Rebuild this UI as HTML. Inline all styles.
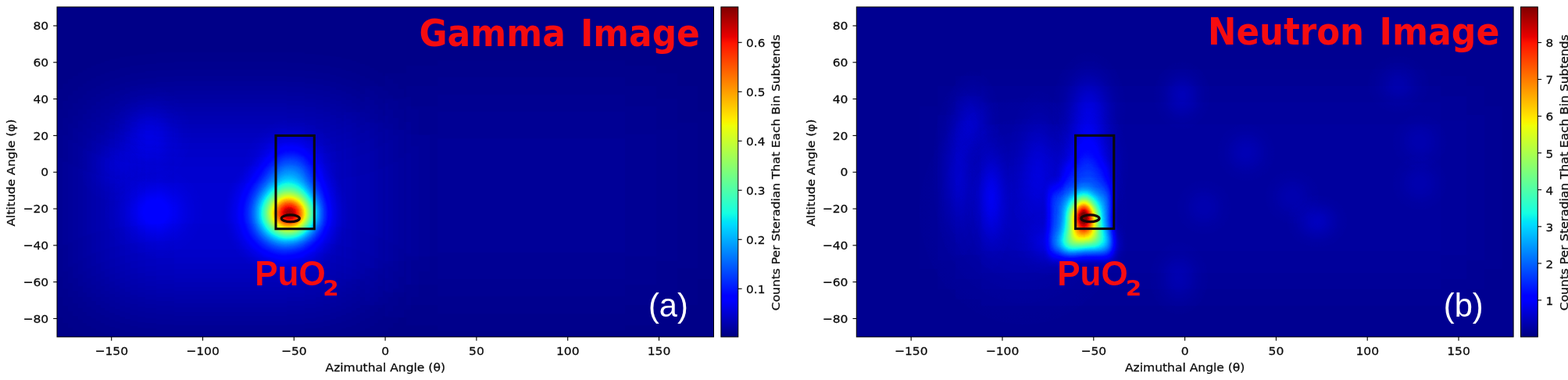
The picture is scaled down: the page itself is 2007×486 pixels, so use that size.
<!DOCTYPE html>
<html lang="en"><head><meta charset="utf-8"><title>Gamma and Neutron Images</title>
<style>
html,body{margin:0;padding:0;background:#fff}
body{width:2007px;height:486px;overflow:hidden}
svg{display:block}
text{font-family:"DejaVu Sans","Liberation Sans",sans-serif;fill:#0a0a0a}
.tk,.ctk,.lab,.clab{stroke:#0a0a0a;stroke-width:0.25px}
.tk{font-size:14.8px}
.ctk{font-size:14.8px}
.lab{font-size:14.8px}
.clab{font-size:14.8px}
.ttl{font-family:"DejaVu Sans","Liberation Sans",sans-serif;font-weight:bold;fill:#f60c10}
.pu{font-family:"Liberation Sans","DejaVu Sans",sans-serif;font-weight:bold;fill:#f60c10}
.sub{font-family:"DejaVu Sans","Liberation Sans",sans-serif}
.tag{font-family:"Liberation Sans",sans-serif;fill:#fff}
</style></head><body>
<svg width="2007" height="486" viewBox="0 0 2007 486">
<defs>
<filter id="jet" color-interpolation-filters="sRGB" filterUnits="userSpaceOnUse" x="0" y="0" width="2007" height="486"><feComponentTransfer><feFuncR type="table" tableValues="0.000 0.000 0.000 0.000 0.000 0.000 0.000 0.000 0.000 0.000 0.000 0.000 0.000 0.000 0.000 0.000 0.000 0.000 0.000 0.000 0.000 0.000 0.000 0.000 0.000 0.000 0.000 0.000 0.000 0.000 0.000 0.000 0.000 0.000 0.000 0.000 0.000 0.000 0.000 0.000 0.000 0.000 0.000 0.000 0.000 0.000 0.000 0.000 0.000 0.000 0.000 0.000 0.000 0.000 0.000 0.000 0.000 0.000 0.000 0.000 0.000 0.000 0.000 0.000 0.000 0.000 0.000 0.000 0.000 0.000 0.000 0.000 0.000 0.000 0.000 0.000 0.000 0.000 0.000 0.000 0.000 0.000 0.000 0.000 0.000 0.000 0.000 0.000 0.000 0.000 0.000 0.000 0.000 0.000 0.000 0.000 0.000 0.000 0.000 0.000 0.000 0.000 0.000 0.000 0.000 0.012 0.026 0.041 0.056 0.070 0.085 0.100 0.115 0.130 0.145 0.160 0.176 0.191 0.207 0.223 0.239 0.255 0.271 0.287 0.303 0.320 0.336 0.353 0.370 0.387 0.404 0.421 0.439 0.456 0.474 0.492 0.510 0.528 0.546 0.565 0.584 0.602 0.621 0.640 0.660 0.679 0.699 0.719 0.739 0.759 0.779 0.800 0.821 0.841 0.863 0.884 0.906 0.928 0.950 0.972 0.994 1.000 1.000 1.000 1.000 1.000 1.000 1.000 1.000 1.000 1.000 1.000 1.000 1.000 1.000 1.000 1.000 1.000 1.000 1.000 1.000 1.000 1.000 1.000 1.000 1.000 1.000 1.000 0.995 0.950 0.903 0.856 0.809 0.760 0.711 0.661 0.610 0.558 0.505 0.500 0.500 0.500 0.500 0.500 0.500 0.500 0.500 0.500 0.500 0.500 0.500 0.500 0.500 0.500 0.500 0.500 0.500 0.500 0.500 0.500 0.500 0.500 0.500 0.500 0.500 0.500 0.500 0.500 0.500 0.500 0.500 0.500 0.500 0.500 0.500 0.500 0.500 0.500 0.500 0.500 0.500 0.500 0.500 0.500 0.500 0.500 0.500 0.500 0.500 0.500 0.500 0.500 0.500 0.500 0.500 0.500"/><feFuncG type="table" tableValues="0.000 0.000 0.000 0.000 0.000 0.000 0.000 0.000 0.000 0.000 0.000 0.000 0.000 0.000 0.000 0.000 0.000 0.000 0.000 0.000 0.000 0.000 0.000 0.000 0.000 0.000 0.000 0.000 0.000 0.000 0.000 0.000 0.000 0.000 0.000 0.000 0.000 0.000 0.000 0.000 0.000 0.000 0.000 0.000 0.005 0.018 0.030 0.043 0.056 0.069 0.082 0.095 0.108 0.121 0.135 0.148 0.161 0.175 0.188 0.202 0.215 0.229 0.243 0.257 0.271 0.285 0.299 0.313 0.327 0.341 0.356 0.370 0.385 0.399 0.414 0.429 0.444 0.459 0.474 0.489 0.504 0.519 0.535 0.550 0.566 0.581 0.597 0.613 0.629 0.645 0.661 0.677 0.693 0.710 0.726 0.743 0.760 0.776 0.793 0.810 0.828 0.845 0.862 0.880 0.897 0.915 0.933 0.951 0.969 0.987 1.000 1.000 1.000 1.000 1.000 1.000 1.000 1.000 1.000 1.000 1.000 1.000 1.000 1.000 1.000 1.000 1.000 1.000 1.000 1.000 1.000 1.000 1.000 1.000 1.000 1.000 1.000 1.000 1.000 1.000 1.000 1.000 1.000 1.000 1.000 1.000 1.000 1.000 1.000 1.000 1.000 1.000 1.000 1.000 1.000 1.000 1.000 1.000 0.984 0.958 0.932 0.906 0.880 0.853 0.826 0.799 0.771 0.743 0.715 0.687 0.658 0.629 0.599 0.569 0.539 0.508 0.477 0.446 0.414 0.381 0.349 0.316 0.282 0.248 0.213 0.178 0.143 0.107 0.070 0.033 0.000 0.000 0.000 0.000 0.000 0.000 0.000 0.000 0.000 0.000 0.000 0.000 0.000 0.000 0.000 0.000 0.000 0.000 0.000 0.000 0.000 0.000 0.000 0.000 0.000 0.000 0.000 0.000 0.000 0.000 0.000 0.000 0.000 0.000 0.000 0.000 0.000 0.000 0.000 0.000 0.000 0.000 0.000 0.000 0.000 0.000 0.000 0.000 0.000 0.000 0.000 0.000 0.000 0.000 0.000 0.000 0.000 0.000 0.000 0.000 0.000 0.000 0.000 0.000 0.000 0.000"/><feFuncB type="table" tableValues="0.500 0.512 0.524 0.536 0.548 0.560 0.572 0.584 0.597 0.609 0.621 0.634 0.646 0.659 0.671 0.684 0.696 0.709 0.722 0.735 0.748 0.760 0.773 0.786 0.800 0.813 0.826 0.839 0.852 0.866 0.879 0.893 0.906 0.920 0.934 0.947 0.961 0.975 0.989 1.000 1.000 1.000 1.000 1.000 1.000 1.000 1.000 1.000 1.000 1.000 1.000 1.000 1.000 1.000 1.000 1.000 1.000 1.000 1.000 1.000 1.000 1.000 1.000 1.000 1.000 1.000 1.000 1.000 1.000 1.000 1.000 1.000 1.000 1.000 1.000 1.000 1.000 1.000 1.000 1.000 1.000 1.000 1.000 1.000 1.000 1.000 1.000 1.000 1.000 1.000 1.000 1.000 1.000 1.000 1.000 1.000 1.000 1.000 1.000 1.000 1.000 1.000 0.998 0.984 0.970 0.956 0.941 0.927 0.912 0.898 0.883 0.868 0.853 0.838 0.823 0.807 0.792 0.776 0.761 0.745 0.729 0.713 0.697 0.681 0.664 0.648 0.631 0.615 0.598 0.581 0.564 0.546 0.529 0.511 0.494 0.476 0.458 0.440 0.421 0.403 0.384 0.365 0.347 0.327 0.308 0.289 0.269 0.249 0.229 0.209 0.189 0.168 0.147 0.126 0.105 0.084 0.062 0.040 0.018 0.000 0.000 0.000 0.000 0.000 0.000 0.000 0.000 0.000 0.000 0.000 0.000 0.000 0.000 0.000 0.000 0.000 0.000 0.000 0.000 0.000 0.000 0.000 0.000 0.000 0.000 0.000 0.000 0.000 0.000 0.000 0.000 0.000 0.000 0.000 0.000 0.000 0.000 0.000 0.000 0.000 0.000 0.000 0.000 0.000 0.000 0.000 0.000 0.000 0.000 0.000 0.000 0.000 0.000 0.000 0.000 0.000 0.000 0.000 0.000 0.000 0.000 0.000 0.000 0.000 0.000 0.000 0.000 0.000 0.000 0.000 0.000 0.000 0.000 0.000 0.000 0.000 0.000 0.000 0.000 0.000 0.000 0.000 0.000 0.000 0.000 0.000 0.000 0.000 0.000 0.000 0.000 0.000 0.000 0.000 0.000 0.000"/><feFuncA type="linear" slope="0" intercept="1"/></feComponentTransfer></filter>
<linearGradient id="cb" x1="0" y1="1" x2="0" y2="0"><stop offset="0.000" stop-color="#000080"/><stop offset="0.110" stop-color="#0000ff"/><stop offset="0.125" stop-color="#0000ff"/><stop offset="0.340" stop-color="#00dbff"/><stop offset="0.350" stop-color="#00e5f7"/><stop offset="0.375" stop-color="#15ffe2"/><stop offset="0.640" stop-color="#efff08"/><stop offset="0.650" stop-color="#f7f600"/><stop offset="0.660" stop-color="#ffec00"/><stop offset="0.890" stop-color="#ff1300"/><stop offset="0.910" stop-color="#e80000"/><stop offset="1.000" stop-color="#800000"/></linearGradient>
<radialGradient id="g1"><stop offset="0.0000" stop-color="#fff" stop-opacity="0.4594"/><stop offset="0.0556" stop-color="#fff" stop-opacity="0.4547"/><stop offset="0.1111" stop-color="#fff" stop-opacity="0.4409"/><stop offset="0.1667" stop-color="#fff" stop-opacity="0.4184"/><stop offset="0.2222" stop-color="#fff" stop-opacity="0.3880"/><stop offset="0.2778" stop-color="#fff" stop-opacity="0.3512"/><stop offset="0.3333" stop-color="#fff" stop-opacity="0.3095"/><stop offset="0.3889" stop-color="#fff" stop-opacity="0.2651"/><stop offset="0.4444" stop-color="#fff" stop-opacity="0.2202"/><stop offset="0.5000" stop-color="#fff" stop-opacity="0.1772"/><stop offset="0.5556" stop-color="#fff" stop-opacity="0.1377"/><stop offset="0.6111" stop-color="#fff" stop-opacity="0.1032"/><stop offset="0.6667" stop-color="#fff" stop-opacity="0.0743"/><stop offset="0.7222" stop-color="#fff" stop-opacity="0.0512"/><stop offset="0.7778" stop-color="#fff" stop-opacity="0.0334"/><stop offset="0.8333" stop-color="#fff" stop-opacity="0.0202"/><stop offset="0.8889" stop-color="#fff" stop-opacity="0.0108"/><stop offset="0.9444" stop-color="#fff" stop-opacity="0.0043"/><stop offset="1.0000" stop-color="#fff" stop-opacity="0.0000"/></radialGradient>
<radialGradient id="g2"><stop offset="0.0000" stop-color="#fff" stop-opacity="0.5276"/><stop offset="0.0556" stop-color="#fff" stop-opacity="0.5227"/><stop offset="0.1111" stop-color="#fff" stop-opacity="0.5079"/><stop offset="0.1667" stop-color="#fff" stop-opacity="0.4836"/><stop offset="0.2222" stop-color="#fff" stop-opacity="0.4506"/><stop offset="0.2778" stop-color="#fff" stop-opacity="0.4099"/><stop offset="0.3333" stop-color="#fff" stop-opacity="0.3634"/><stop offset="0.3889" stop-color="#fff" stop-opacity="0.3131"/><stop offset="0.4444" stop-color="#fff" stop-opacity="0.2617"/><stop offset="0.5000" stop-color="#fff" stop-opacity="0.2116"/><stop offset="0.5556" stop-color="#fff" stop-opacity="0.1653"/><stop offset="0.6111" stop-color="#fff" stop-opacity="0.1244"/><stop offset="0.6667" stop-color="#fff" stop-opacity="0.0899"/><stop offset="0.7222" stop-color="#fff" stop-opacity="0.0621"/><stop offset="0.7778" stop-color="#fff" stop-opacity="0.0406"/><stop offset="0.8333" stop-color="#fff" stop-opacity="0.0246"/><stop offset="0.8889" stop-color="#fff" stop-opacity="0.0132"/><stop offset="0.9444" stop-color="#fff" stop-opacity="0.0053"/><stop offset="1.0000" stop-color="#fff" stop-opacity="0.0000"/></radialGradient>
<radialGradient id="g3"><stop offset="0.0000" stop-color="#fff" stop-opacity="0.1772"/><stop offset="0.0556" stop-color="#fff" stop-opacity="0.1749"/><stop offset="0.1111" stop-color="#fff" stop-opacity="0.1684"/><stop offset="0.1667" stop-color="#fff" stop-opacity="0.1579"/><stop offset="0.2222" stop-color="#fff" stop-opacity="0.1442"/><stop offset="0.2778" stop-color="#fff" stop-opacity="0.1282"/><stop offset="0.3333" stop-color="#fff" stop-opacity="0.1108"/><stop offset="0.3889" stop-color="#fff" stop-opacity="0.0930"/><stop offset="0.4444" stop-color="#fff" stop-opacity="0.0758"/><stop offset="0.5000" stop-color="#fff" stop-opacity="0.0600"/><stop offset="0.5556" stop-color="#fff" stop-opacity="0.0459"/><stop offset="0.6111" stop-color="#fff" stop-opacity="0.0340"/><stop offset="0.6667" stop-color="#fff" stop-opacity="0.0242"/><stop offset="0.7222" stop-color="#fff" stop-opacity="0.0165"/><stop offset="0.7778" stop-color="#fff" stop-opacity="0.0107"/><stop offset="0.8333" stop-color="#fff" stop-opacity="0.0065"/><stop offset="0.8889" stop-color="#fff" stop-opacity="0.0034"/><stop offset="0.9444" stop-color="#fff" stop-opacity="0.0014"/><stop offset="1.0000" stop-color="#fff" stop-opacity="0.0000"/></radialGradient>
<filter id="g4" filterUnits="userSpaceOnUse" x="-100" y="-60" width="790" height="640" color-interpolation-filters="sRGB"><feGaussianBlur stdDeviation="55 50"/></filter>
<filter id="g5" filterUnits="userSpaceOnUse" x="240" y="-90" width="880" height="680" color-interpolation-filters="sRGB"><feGaussianBlur stdDeviation="60 50"/></filter>
<radialGradient id="g6"><stop offset="0.0000" stop-color="#fff" stop-opacity="0.0792"/><stop offset="0.0556" stop-color="#fff" stop-opacity="0.0781"/><stop offset="0.1111" stop-color="#fff" stop-opacity="0.0750"/><stop offset="0.1667" stop-color="#fff" stop-opacity="0.0701"/><stop offset="0.2222" stop-color="#fff" stop-opacity="0.0638"/><stop offset="0.2778" stop-color="#fff" stop-opacity="0.0564"/><stop offset="0.3333" stop-color="#fff" stop-opacity="0.0485"/><stop offset="0.3889" stop-color="#fff" stop-opacity="0.0405"/><stop offset="0.4444" stop-color="#fff" stop-opacity="0.0328"/><stop offset="0.5000" stop-color="#fff" stop-opacity="0.0258"/><stop offset="0.5556" stop-color="#fff" stop-opacity="0.0197"/><stop offset="0.6111" stop-color="#fff" stop-opacity="0.0145"/><stop offset="0.6667" stop-color="#fff" stop-opacity="0.0103"/><stop offset="0.7222" stop-color="#fff" stop-opacity="0.0070"/><stop offset="0.7778" stop-color="#fff" stop-opacity="0.0045"/><stop offset="0.8333" stop-color="#fff" stop-opacity="0.0027"/><stop offset="0.8889" stop-color="#fff" stop-opacity="0.0015"/><stop offset="0.9444" stop-color="#fff" stop-opacity="0.0006"/><stop offset="1.0000" stop-color="#fff" stop-opacity="0.0000"/></radialGradient>
<radialGradient id="g7"><stop offset="0.0000" stop-color="#fff" stop-opacity="0.0511"/><stop offset="0.0556" stop-color="#fff" stop-opacity="0.0505"/><stop offset="0.1111" stop-color="#fff" stop-opacity="0.0484"/><stop offset="0.1667" stop-color="#fff" stop-opacity="0.0452"/><stop offset="0.2222" stop-color="#fff" stop-opacity="0.0411"/><stop offset="0.2778" stop-color="#fff" stop-opacity="0.0363"/><stop offset="0.3333" stop-color="#fff" stop-opacity="0.0311"/><stop offset="0.3889" stop-color="#fff" stop-opacity="0.0259"/><stop offset="0.4444" stop-color="#fff" stop-opacity="0.0210"/><stop offset="0.5000" stop-color="#fff" stop-opacity="0.0165"/><stop offset="0.5556" stop-color="#fff" stop-opacity="0.0126"/><stop offset="0.6111" stop-color="#fff" stop-opacity="0.0093"/><stop offset="0.6667" stop-color="#fff" stop-opacity="0.0066"/><stop offset="0.7222" stop-color="#fff" stop-opacity="0.0045"/><stop offset="0.7778" stop-color="#fff" stop-opacity="0.0029"/><stop offset="0.8333" stop-color="#fff" stop-opacity="0.0017"/><stop offset="0.8889" stop-color="#fff" stop-opacity="0.0009"/><stop offset="0.9444" stop-color="#fff" stop-opacity="0.0004"/><stop offset="1.0000" stop-color="#fff" stop-opacity="0.0000"/></radialGradient>
<radialGradient id="g8"><stop offset="0.0000" stop-color="#fff" stop-opacity="0.0296"/><stop offset="0.0556" stop-color="#fff" stop-opacity="0.0291"/><stop offset="0.1111" stop-color="#fff" stop-opacity="0.0280"/><stop offset="0.1667" stop-color="#fff" stop-opacity="0.0261"/><stop offset="0.2222" stop-color="#fff" stop-opacity="0.0237"/><stop offset="0.2778" stop-color="#fff" stop-opacity="0.0209"/><stop offset="0.3333" stop-color="#fff" stop-opacity="0.0179"/><stop offset="0.3889" stop-color="#fff" stop-opacity="0.0149"/><stop offset="0.4444" stop-color="#fff" stop-opacity="0.0121"/><stop offset="0.5000" stop-color="#fff" stop-opacity="0.0095"/><stop offset="0.5556" stop-color="#fff" stop-opacity="0.0072"/><stop offset="0.6111" stop-color="#fff" stop-opacity="0.0053"/><stop offset="0.6667" stop-color="#fff" stop-opacity="0.0038"/><stop offset="0.7222" stop-color="#fff" stop-opacity="0.0026"/><stop offset="0.7778" stop-color="#fff" stop-opacity="0.0017"/><stop offset="0.8333" stop-color="#fff" stop-opacity="0.0010"/><stop offset="0.8889" stop-color="#fff" stop-opacity="0.0005"/><stop offset="0.9444" stop-color="#fff" stop-opacity="0.0002"/><stop offset="1.0000" stop-color="#fff" stop-opacity="0.0000"/></radialGradient>
<clipPath id="clip0"><rect x="73" y="8.9" width="840.5" height="422"/></clipPath>
<filter id="g9" filterUnits="userSpaceOnUse" x="1329" y="218" width="117" height="144" color-interpolation-filters="sRGB"><feGaussianBlur stdDeviation="9 11"/></filter>
<radialGradient id="g10"><stop offset="0.0000" stop-color="#fff" stop-opacity="0.4674"/><stop offset="0.0556" stop-color="#fff" stop-opacity="0.4627"/><stop offset="0.1111" stop-color="#fff" stop-opacity="0.4488"/><stop offset="0.1667" stop-color="#fff" stop-opacity="0.4260"/><stop offset="0.2222" stop-color="#fff" stop-opacity="0.3953"/><stop offset="0.2778" stop-color="#fff" stop-opacity="0.3580"/><stop offset="0.3333" stop-color="#fff" stop-opacity="0.3157"/><stop offset="0.3889" stop-color="#fff" stop-opacity="0.2706"/><stop offset="0.4444" stop-color="#fff" stop-opacity="0.2250"/><stop offset="0.5000" stop-color="#fff" stop-opacity="0.1811"/><stop offset="0.5556" stop-color="#fff" stop-opacity="0.1408"/><stop offset="0.6111" stop-color="#fff" stop-opacity="0.1056"/><stop offset="0.6667" stop-color="#fff" stop-opacity="0.0761"/><stop offset="0.7222" stop-color="#fff" stop-opacity="0.0524"/><stop offset="0.7778" stop-color="#fff" stop-opacity="0.0342"/><stop offset="0.8333" stop-color="#fff" stop-opacity="0.0207"/><stop offset="0.8889" stop-color="#fff" stop-opacity="0.0111"/><stop offset="0.9444" stop-color="#fff" stop-opacity="0.0044"/><stop offset="1.0000" stop-color="#fff" stop-opacity="0.0000"/></radialGradient>
<radialGradient id="g11"><stop offset="0.0000" stop-color="#fff" stop-opacity="0.1263"/><stop offset="0.0556" stop-color="#fff" stop-opacity="0.1246"/><stop offset="0.1111" stop-color="#fff" stop-opacity="0.1198"/><stop offset="0.1667" stop-color="#fff" stop-opacity="0.1122"/><stop offset="0.2222" stop-color="#fff" stop-opacity="0.1022"/><stop offset="0.2778" stop-color="#fff" stop-opacity="0.0906"/><stop offset="0.3333" stop-color="#fff" stop-opacity="0.0781"/><stop offset="0.3889" stop-color="#fff" stop-opacity="0.0654"/><stop offset="0.4444" stop-color="#fff" stop-opacity="0.0531"/><stop offset="0.5000" stop-color="#fff" stop-opacity="0.0419"/><stop offset="0.5556" stop-color="#fff" stop-opacity="0.0320"/><stop offset="0.6111" stop-color="#fff" stop-opacity="0.0236"/><stop offset="0.6667" stop-color="#fff" stop-opacity="0.0168"/><stop offset="0.7222" stop-color="#fff" stop-opacity="0.0115"/><stop offset="0.7778" stop-color="#fff" stop-opacity="0.0074"/><stop offset="0.8333" stop-color="#fff" stop-opacity="0.0045"/><stop offset="0.8889" stop-color="#fff" stop-opacity="0.0024"/><stop offset="0.9444" stop-color="#fff" stop-opacity="0.0009"/><stop offset="1.0000" stop-color="#fff" stop-opacity="0.0000"/></radialGradient>
<radialGradient id="g12"><stop offset="0.0000" stop-color="#fff" stop-opacity="0.1263"/><stop offset="0.0556" stop-color="#fff" stop-opacity="0.1246"/><stop offset="0.1111" stop-color="#fff" stop-opacity="0.1198"/><stop offset="0.1667" stop-color="#fff" stop-opacity="0.1122"/><stop offset="0.2222" stop-color="#fff" stop-opacity="0.1022"/><stop offset="0.2778" stop-color="#fff" stop-opacity="0.0906"/><stop offset="0.3333" stop-color="#fff" stop-opacity="0.0781"/><stop offset="0.3889" stop-color="#fff" stop-opacity="0.0654"/><stop offset="0.4444" stop-color="#fff" stop-opacity="0.0531"/><stop offset="0.5000" stop-color="#fff" stop-opacity="0.0419"/><stop offset="0.5556" stop-color="#fff" stop-opacity="0.0320"/><stop offset="0.6111" stop-color="#fff" stop-opacity="0.0236"/><stop offset="0.6667" stop-color="#fff" stop-opacity="0.0168"/><stop offset="0.7222" stop-color="#fff" stop-opacity="0.0115"/><stop offset="0.7778" stop-color="#fff" stop-opacity="0.0074"/><stop offset="0.8333" stop-color="#fff" stop-opacity="0.0045"/><stop offset="0.8889" stop-color="#fff" stop-opacity="0.0024"/><stop offset="0.9444" stop-color="#fff" stop-opacity="0.0009"/><stop offset="1.0000" stop-color="#fff" stop-opacity="0.0000"/></radialGradient>
<filter id="g13" filterUnits="userSpaceOnUse" x="1323" y="202" width="121" height="163" color-interpolation-filters="sRGB"><feGaussianBlur stdDeviation="5 10"/></filter>
<radialGradient id="g14"><stop offset="0.0000" stop-color="#fff" stop-opacity="0.1521"/><stop offset="0.0556" stop-color="#fff" stop-opacity="0.1502"/><stop offset="0.1111" stop-color="#fff" stop-opacity="0.1444"/><stop offset="0.1667" stop-color="#fff" stop-opacity="0.1353"/><stop offset="0.2222" stop-color="#fff" stop-opacity="0.1234"/><stop offset="0.2778" stop-color="#fff" stop-opacity="0.1096"/><stop offset="0.3333" stop-color="#fff" stop-opacity="0.0946"/><stop offset="0.3889" stop-color="#fff" stop-opacity="0.0793"/><stop offset="0.4444" stop-color="#fff" stop-opacity="0.0646"/><stop offset="0.5000" stop-color="#fff" stop-opacity="0.0510"/><stop offset="0.5556" stop-color="#fff" stop-opacity="0.0390"/><stop offset="0.6111" stop-color="#fff" stop-opacity="0.0288"/><stop offset="0.6667" stop-color="#fff" stop-opacity="0.0205"/><stop offset="0.7222" stop-color="#fff" stop-opacity="0.0140"/><stop offset="0.7778" stop-color="#fff" stop-opacity="0.0091"/><stop offset="0.8333" stop-color="#fff" stop-opacity="0.0055"/><stop offset="0.8889" stop-color="#fff" stop-opacity="0.0029"/><stop offset="0.9444" stop-color="#fff" stop-opacity="0.0012"/><stop offset="1.0000" stop-color="#fff" stop-opacity="0.0000"/></radialGradient>
<filter id="g15" filterUnits="userSpaceOnUse" x="1332" y="170" width="117" height="140" color-interpolation-filters="sRGB"><feGaussianBlur stdDeviation="7 12"/></filter>
<filter id="g16" filterUnits="userSpaceOnUse" x="1020" y="-50" width="1060" height="580" color-interpolation-filters="sRGB"><feGaussianBlur stdDeviation="45 40"/></filter>
<radialGradient id="g17"><stop offset="0.0000" stop-color="#fff" stop-opacity="0.0440"/><stop offset="0.0556" stop-color="#fff" stop-opacity="0.0434"/><stop offset="0.1111" stop-color="#fff" stop-opacity="0.0416"/><stop offset="0.1667" stop-color="#fff" stop-opacity="0.0389"/><stop offset="0.2222" stop-color="#fff" stop-opacity="0.0353"/><stop offset="0.2778" stop-color="#fff" stop-opacity="0.0312"/><stop offset="0.3333" stop-color="#fff" stop-opacity="0.0267"/><stop offset="0.3889" stop-color="#fff" stop-opacity="0.0223"/><stop offset="0.4444" stop-color="#fff" stop-opacity="0.0180"/><stop offset="0.5000" stop-color="#fff" stop-opacity="0.0142"/><stop offset="0.5556" stop-color="#fff" stop-opacity="0.0108"/><stop offset="0.6111" stop-color="#fff" stop-opacity="0.0079"/><stop offset="0.6667" stop-color="#fff" stop-opacity="0.0056"/><stop offset="0.7222" stop-color="#fff" stop-opacity="0.0038"/><stop offset="0.7778" stop-color="#fff" stop-opacity="0.0025"/><stop offset="0.8333" stop-color="#fff" stop-opacity="0.0015"/><stop offset="0.8889" stop-color="#fff" stop-opacity="0.0008"/><stop offset="0.9444" stop-color="#fff" stop-opacity="0.0003"/><stop offset="1.0000" stop-color="#fff" stop-opacity="0.0000"/></radialGradient>
<radialGradient id="g18"><stop offset="0.0000" stop-color="#fff" stop-opacity="0.0792"/><stop offset="0.0556" stop-color="#fff" stop-opacity="0.0781"/><stop offset="0.1111" stop-color="#fff" stop-opacity="0.0750"/><stop offset="0.1667" stop-color="#fff" stop-opacity="0.0701"/><stop offset="0.2222" stop-color="#fff" stop-opacity="0.0638"/><stop offset="0.2778" stop-color="#fff" stop-opacity="0.0564"/><stop offset="0.3333" stop-color="#fff" stop-opacity="0.0485"/><stop offset="0.3889" stop-color="#fff" stop-opacity="0.0405"/><stop offset="0.4444" stop-color="#fff" stop-opacity="0.0328"/><stop offset="0.5000" stop-color="#fff" stop-opacity="0.0258"/><stop offset="0.5556" stop-color="#fff" stop-opacity="0.0197"/><stop offset="0.6111" stop-color="#fff" stop-opacity="0.0145"/><stop offset="0.6667" stop-color="#fff" stop-opacity="0.0103"/><stop offset="0.7222" stop-color="#fff" stop-opacity="0.0070"/><stop offset="0.7778" stop-color="#fff" stop-opacity="0.0045"/><stop offset="0.8333" stop-color="#fff" stop-opacity="0.0027"/><stop offset="0.8889" stop-color="#fff" stop-opacity="0.0015"/><stop offset="0.9444" stop-color="#fff" stop-opacity="0.0006"/><stop offset="1.0000" stop-color="#fff" stop-opacity="0.0000"/></radialGradient>
<radialGradient id="g19"><stop offset="0.0000" stop-color="#fff" stop-opacity="0.0511"/><stop offset="0.0556" stop-color="#fff" stop-opacity="0.0505"/><stop offset="0.1111" stop-color="#fff" stop-opacity="0.0484"/><stop offset="0.1667" stop-color="#fff" stop-opacity="0.0452"/><stop offset="0.2222" stop-color="#fff" stop-opacity="0.0411"/><stop offset="0.2778" stop-color="#fff" stop-opacity="0.0363"/><stop offset="0.3333" stop-color="#fff" stop-opacity="0.0311"/><stop offset="0.3889" stop-color="#fff" stop-opacity="0.0259"/><stop offset="0.4444" stop-color="#fff" stop-opacity="0.0210"/><stop offset="0.5000" stop-color="#fff" stop-opacity="0.0165"/><stop offset="0.5556" stop-color="#fff" stop-opacity="0.0126"/><stop offset="0.6111" stop-color="#fff" stop-opacity="0.0093"/><stop offset="0.6667" stop-color="#fff" stop-opacity="0.0066"/><stop offset="0.7222" stop-color="#fff" stop-opacity="0.0045"/><stop offset="0.7778" stop-color="#fff" stop-opacity="0.0029"/><stop offset="0.8333" stop-color="#fff" stop-opacity="0.0017"/><stop offset="0.8889" stop-color="#fff" stop-opacity="0.0009"/><stop offset="0.9444" stop-color="#fff" stop-opacity="0.0004"/><stop offset="1.0000" stop-color="#fff" stop-opacity="0.0000"/></radialGradient>
<radialGradient id="g20"><stop offset="0.0000" stop-color="#fff" stop-opacity="0.0511"/><stop offset="0.0556" stop-color="#fff" stop-opacity="0.0505"/><stop offset="0.1111" stop-color="#fff" stop-opacity="0.0484"/><stop offset="0.1667" stop-color="#fff" stop-opacity="0.0452"/><stop offset="0.2222" stop-color="#fff" stop-opacity="0.0411"/><stop offset="0.2778" stop-color="#fff" stop-opacity="0.0363"/><stop offset="0.3333" stop-color="#fff" stop-opacity="0.0311"/><stop offset="0.3889" stop-color="#fff" stop-opacity="0.0259"/><stop offset="0.4444" stop-color="#fff" stop-opacity="0.0210"/><stop offset="0.5000" stop-color="#fff" stop-opacity="0.0165"/><stop offset="0.5556" stop-color="#fff" stop-opacity="0.0126"/><stop offset="0.6111" stop-color="#fff" stop-opacity="0.0093"/><stop offset="0.6667" stop-color="#fff" stop-opacity="0.0066"/><stop offset="0.7222" stop-color="#fff" stop-opacity="0.0045"/><stop offset="0.7778" stop-color="#fff" stop-opacity="0.0029"/><stop offset="0.8333" stop-color="#fff" stop-opacity="0.0017"/><stop offset="0.8889" stop-color="#fff" stop-opacity="0.0009"/><stop offset="0.9444" stop-color="#fff" stop-opacity="0.0004"/><stop offset="1.0000" stop-color="#fff" stop-opacity="0.0000"/></radialGradient>
<radialGradient id="g21"><stop offset="0.0000" stop-color="#fff" stop-opacity="0.0723"/><stop offset="0.0556" stop-color="#fff" stop-opacity="0.0713"/><stop offset="0.1111" stop-color="#fff" stop-opacity="0.0684"/><stop offset="0.1667" stop-color="#fff" stop-opacity="0.0640"/><stop offset="0.2222" stop-color="#fff" stop-opacity="0.0581"/><stop offset="0.2778" stop-color="#fff" stop-opacity="0.0514"/><stop offset="0.3333" stop-color="#fff" stop-opacity="0.0442"/><stop offset="0.3889" stop-color="#fff" stop-opacity="0.0369"/><stop offset="0.4444" stop-color="#fff" stop-opacity="0.0299"/><stop offset="0.5000" stop-color="#fff" stop-opacity="0.0235"/><stop offset="0.5556" stop-color="#fff" stop-opacity="0.0179"/><stop offset="0.6111" stop-color="#fff" stop-opacity="0.0132"/><stop offset="0.6667" stop-color="#fff" stop-opacity="0.0094"/><stop offset="0.7222" stop-color="#fff" stop-opacity="0.0064"/><stop offset="0.7778" stop-color="#fff" stop-opacity="0.0041"/><stop offset="0.8333" stop-color="#fff" stop-opacity="0.0025"/><stop offset="0.8889" stop-color="#fff" stop-opacity="0.0013"/><stop offset="0.9444" stop-color="#fff" stop-opacity="0.0005"/><stop offset="1.0000" stop-color="#fff" stop-opacity="0.0000"/></radialGradient>
<radialGradient id="g22"><stop offset="0.0000" stop-color="#fff" stop-opacity="0.0411"/><stop offset="0.0556" stop-color="#fff" stop-opacity="0.0406"/><stop offset="0.1111" stop-color="#fff" stop-opacity="0.0389"/><stop offset="0.1667" stop-color="#fff" stop-opacity="0.0363"/><stop offset="0.2222" stop-color="#fff" stop-opacity="0.0330"/><stop offset="0.2778" stop-color="#fff" stop-opacity="0.0291"/><stop offset="0.3333" stop-color="#fff" stop-opacity="0.0250"/><stop offset="0.3889" stop-color="#fff" stop-opacity="0.0208"/><stop offset="0.4444" stop-color="#fff" stop-opacity="0.0168"/><stop offset="0.5000" stop-color="#fff" stop-opacity="0.0132"/><stop offset="0.5556" stop-color="#fff" stop-opacity="0.0101"/><stop offset="0.6111" stop-color="#fff" stop-opacity="0.0074"/><stop offset="0.6667" stop-color="#fff" stop-opacity="0.0053"/><stop offset="0.7222" stop-color="#fff" stop-opacity="0.0036"/><stop offset="0.7778" stop-color="#fff" stop-opacity="0.0023"/><stop offset="0.8333" stop-color="#fff" stop-opacity="0.0014"/><stop offset="0.8889" stop-color="#fff" stop-opacity="0.0007"/><stop offset="0.9444" stop-color="#fff" stop-opacity="0.0003"/><stop offset="1.0000" stop-color="#fff" stop-opacity="0.0000"/></radialGradient>
<radialGradient id="g23"><stop offset="0.0000" stop-color="#fff" stop-opacity="0.0296"/><stop offset="0.0556" stop-color="#fff" stop-opacity="0.0291"/><stop offset="0.1111" stop-color="#fff" stop-opacity="0.0280"/><stop offset="0.1667" stop-color="#fff" stop-opacity="0.0261"/><stop offset="0.2222" stop-color="#fff" stop-opacity="0.0237"/><stop offset="0.2778" stop-color="#fff" stop-opacity="0.0209"/><stop offset="0.3333" stop-color="#fff" stop-opacity="0.0179"/><stop offset="0.3889" stop-color="#fff" stop-opacity="0.0149"/><stop offset="0.4444" stop-color="#fff" stop-opacity="0.0121"/><stop offset="0.5000" stop-color="#fff" stop-opacity="0.0095"/><stop offset="0.5556" stop-color="#fff" stop-opacity="0.0072"/><stop offset="0.6111" stop-color="#fff" stop-opacity="0.0053"/><stop offset="0.6667" stop-color="#fff" stop-opacity="0.0038"/><stop offset="0.7222" stop-color="#fff" stop-opacity="0.0026"/><stop offset="0.7778" stop-color="#fff" stop-opacity="0.0017"/><stop offset="0.8333" stop-color="#fff" stop-opacity="0.0010"/><stop offset="0.8889" stop-color="#fff" stop-opacity="0.0005"/><stop offset="0.9444" stop-color="#fff" stop-opacity="0.0002"/><stop offset="1.0000" stop-color="#fff" stop-opacity="0.0000"/></radialGradient>
<radialGradient id="g24"><stop offset="0.0000" stop-color="#fff" stop-opacity="0.0222"/><stop offset="0.0556" stop-color="#fff" stop-opacity="0.0219"/><stop offset="0.1111" stop-color="#fff" stop-opacity="0.0210"/><stop offset="0.1667" stop-color="#fff" stop-opacity="0.0196"/><stop offset="0.2222" stop-color="#fff" stop-opacity="0.0178"/><stop offset="0.2778" stop-color="#fff" stop-opacity="0.0157"/><stop offset="0.3333" stop-color="#fff" stop-opacity="0.0135"/><stop offset="0.3889" stop-color="#fff" stop-opacity="0.0112"/><stop offset="0.4444" stop-color="#fff" stop-opacity="0.0091"/><stop offset="0.5000" stop-color="#fff" stop-opacity="0.0071"/><stop offset="0.5556" stop-color="#fff" stop-opacity="0.0054"/><stop offset="0.6111" stop-color="#fff" stop-opacity="0.0040"/><stop offset="0.6667" stop-color="#fff" stop-opacity="0.0028"/><stop offset="0.7222" stop-color="#fff" stop-opacity="0.0019"/><stop offset="0.7778" stop-color="#fff" stop-opacity="0.0012"/><stop offset="0.8333" stop-color="#fff" stop-opacity="0.0007"/><stop offset="0.8889" stop-color="#fff" stop-opacity="0.0004"/><stop offset="0.9444" stop-color="#fff" stop-opacity="0.0002"/><stop offset="1.0000" stop-color="#fff" stop-opacity="0.0000"/></radialGradient>
<radialGradient id="g25"><stop offset="0.0000" stop-color="#fff" stop-opacity="0.0296"/><stop offset="0.0556" stop-color="#fff" stop-opacity="0.0291"/><stop offset="0.1111" stop-color="#fff" stop-opacity="0.0280"/><stop offset="0.1667" stop-color="#fff" stop-opacity="0.0261"/><stop offset="0.2222" stop-color="#fff" stop-opacity="0.0237"/><stop offset="0.2778" stop-color="#fff" stop-opacity="0.0209"/><stop offset="0.3333" stop-color="#fff" stop-opacity="0.0179"/><stop offset="0.3889" stop-color="#fff" stop-opacity="0.0149"/><stop offset="0.4444" stop-color="#fff" stop-opacity="0.0121"/><stop offset="0.5000" stop-color="#fff" stop-opacity="0.0095"/><stop offset="0.5556" stop-color="#fff" stop-opacity="0.0072"/><stop offset="0.6111" stop-color="#fff" stop-opacity="0.0053"/><stop offset="0.6667" stop-color="#fff" stop-opacity="0.0038"/><stop offset="0.7222" stop-color="#fff" stop-opacity="0.0026"/><stop offset="0.7778" stop-color="#fff" stop-opacity="0.0017"/><stop offset="0.8333" stop-color="#fff" stop-opacity="0.0010"/><stop offset="0.8889" stop-color="#fff" stop-opacity="0.0005"/><stop offset="0.9444" stop-color="#fff" stop-opacity="0.0002"/><stop offset="1.0000" stop-color="#fff" stop-opacity="0.0000"/></radialGradient>
<radialGradient id="g26"><stop offset="0.0000" stop-color="#fff" stop-opacity="0.0411"/><stop offset="0.0556" stop-color="#fff" stop-opacity="0.0406"/><stop offset="0.1111" stop-color="#fff" stop-opacity="0.0389"/><stop offset="0.1667" stop-color="#fff" stop-opacity="0.0363"/><stop offset="0.2222" stop-color="#fff" stop-opacity="0.0330"/><stop offset="0.2778" stop-color="#fff" stop-opacity="0.0291"/><stop offset="0.3333" stop-color="#fff" stop-opacity="0.0250"/><stop offset="0.3889" stop-color="#fff" stop-opacity="0.0208"/><stop offset="0.4444" stop-color="#fff" stop-opacity="0.0168"/><stop offset="0.5000" stop-color="#fff" stop-opacity="0.0132"/><stop offset="0.5556" stop-color="#fff" stop-opacity="0.0101"/><stop offset="0.6111" stop-color="#fff" stop-opacity="0.0074"/><stop offset="0.6667" stop-color="#fff" stop-opacity="0.0053"/><stop offset="0.7222" stop-color="#fff" stop-opacity="0.0036"/><stop offset="0.7778" stop-color="#fff" stop-opacity="0.0023"/><stop offset="0.8333" stop-color="#fff" stop-opacity="0.0014"/><stop offset="0.8889" stop-color="#fff" stop-opacity="0.0007"/><stop offset="0.9444" stop-color="#fff" stop-opacity="0.0003"/><stop offset="1.0000" stop-color="#fff" stop-opacity="0.0000"/></radialGradient>
<radialGradient id="g27"><stop offset="0.0000" stop-color="#fff" stop-opacity="0.0222"/><stop offset="0.0556" stop-color="#fff" stop-opacity="0.0219"/><stop offset="0.1111" stop-color="#fff" stop-opacity="0.0210"/><stop offset="0.1667" stop-color="#fff" stop-opacity="0.0196"/><stop offset="0.2222" stop-color="#fff" stop-opacity="0.0178"/><stop offset="0.2778" stop-color="#fff" stop-opacity="0.0157"/><stop offset="0.3333" stop-color="#fff" stop-opacity="0.0135"/><stop offset="0.3889" stop-color="#fff" stop-opacity="0.0112"/><stop offset="0.4444" stop-color="#fff" stop-opacity="0.0091"/><stop offset="0.5000" stop-color="#fff" stop-opacity="0.0071"/><stop offset="0.5556" stop-color="#fff" stop-opacity="0.0054"/><stop offset="0.6111" stop-color="#fff" stop-opacity="0.0040"/><stop offset="0.6667" stop-color="#fff" stop-opacity="0.0028"/><stop offset="0.7222" stop-color="#fff" stop-opacity="0.0019"/><stop offset="0.7778" stop-color="#fff" stop-opacity="0.0012"/><stop offset="0.8333" stop-color="#fff" stop-opacity="0.0007"/><stop offset="0.8889" stop-color="#fff" stop-opacity="0.0004"/><stop offset="0.9444" stop-color="#fff" stop-opacity="0.0002"/><stop offset="1.0000" stop-color="#fff" stop-opacity="0.0000"/></radialGradient>
<radialGradient id="g28"><stop offset="0.0000" stop-color="#fff" stop-opacity="0.0325"/><stop offset="0.0556" stop-color="#fff" stop-opacity="0.0320"/><stop offset="0.1111" stop-color="#fff" stop-opacity="0.0307"/><stop offset="0.1667" stop-color="#fff" stop-opacity="0.0287"/><stop offset="0.2222" stop-color="#fff" stop-opacity="0.0260"/><stop offset="0.2778" stop-color="#fff" stop-opacity="0.0229"/><stop offset="0.3333" stop-color="#fff" stop-opacity="0.0197"/><stop offset="0.3889" stop-color="#fff" stop-opacity="0.0164"/><stop offset="0.4444" stop-color="#fff" stop-opacity="0.0133"/><stop offset="0.5000" stop-color="#fff" stop-opacity="0.0104"/><stop offset="0.5556" stop-color="#fff" stop-opacity="0.0079"/><stop offset="0.6111" stop-color="#fff" stop-opacity="0.0058"/><stop offset="0.6667" stop-color="#fff" stop-opacity="0.0041"/><stop offset="0.7222" stop-color="#fff" stop-opacity="0.0028"/><stop offset="0.7778" stop-color="#fff" stop-opacity="0.0018"/><stop offset="0.8333" stop-color="#fff" stop-opacity="0.0011"/><stop offset="0.8889" stop-color="#fff" stop-opacity="0.0006"/><stop offset="0.9444" stop-color="#fff" stop-opacity="0.0002"/><stop offset="1.0000" stop-color="#fff" stop-opacity="0.0000"/></radialGradient>
<radialGradient id="g29"><stop offset="0.0000" stop-color="#fff" stop-opacity="0.0222"/><stop offset="0.0556" stop-color="#fff" stop-opacity="0.0219"/><stop offset="0.1111" stop-color="#fff" stop-opacity="0.0210"/><stop offset="0.1667" stop-color="#fff" stop-opacity="0.0196"/><stop offset="0.2222" stop-color="#fff" stop-opacity="0.0178"/><stop offset="0.2778" stop-color="#fff" stop-opacity="0.0157"/><stop offset="0.3333" stop-color="#fff" stop-opacity="0.0135"/><stop offset="0.3889" stop-color="#fff" stop-opacity="0.0112"/><stop offset="0.4444" stop-color="#fff" stop-opacity="0.0091"/><stop offset="0.5000" stop-color="#fff" stop-opacity="0.0071"/><stop offset="0.5556" stop-color="#fff" stop-opacity="0.0054"/><stop offset="0.6111" stop-color="#fff" stop-opacity="0.0040"/><stop offset="0.6667" stop-color="#fff" stop-opacity="0.0028"/><stop offset="0.7222" stop-color="#fff" stop-opacity="0.0019"/><stop offset="0.7778" stop-color="#fff" stop-opacity="0.0012"/><stop offset="0.8333" stop-color="#fff" stop-opacity="0.0007"/><stop offset="0.8889" stop-color="#fff" stop-opacity="0.0004"/><stop offset="0.9444" stop-color="#fff" stop-opacity="0.0002"/><stop offset="1.0000" stop-color="#fff" stop-opacity="0.0000"/></radialGradient>
<radialGradient id="g30"><stop offset="0.0000" stop-color="#fff" stop-opacity="0.0222"/><stop offset="0.0556" stop-color="#fff" stop-opacity="0.0219"/><stop offset="0.1111" stop-color="#fff" stop-opacity="0.0210"/><stop offset="0.1667" stop-color="#fff" stop-opacity="0.0196"/><stop offset="0.2222" stop-color="#fff" stop-opacity="0.0178"/><stop offset="0.2778" stop-color="#fff" stop-opacity="0.0157"/><stop offset="0.3333" stop-color="#fff" stop-opacity="0.0135"/><stop offset="0.3889" stop-color="#fff" stop-opacity="0.0112"/><stop offset="0.4444" stop-color="#fff" stop-opacity="0.0091"/><stop offset="0.5000" stop-color="#fff" stop-opacity="0.0071"/><stop offset="0.5556" stop-color="#fff" stop-opacity="0.0054"/><stop offset="0.6111" stop-color="#fff" stop-opacity="0.0040"/><stop offset="0.6667" stop-color="#fff" stop-opacity="0.0028"/><stop offset="0.7222" stop-color="#fff" stop-opacity="0.0019"/><stop offset="0.7778" stop-color="#fff" stop-opacity="0.0012"/><stop offset="0.8333" stop-color="#fff" stop-opacity="0.0007"/><stop offset="0.8889" stop-color="#fff" stop-opacity="0.0004"/><stop offset="0.9444" stop-color="#fff" stop-opacity="0.0002"/><stop offset="1.0000" stop-color="#fff" stop-opacity="0.0000"/></radialGradient>
<radialGradient id="g31"><stop offset="0.0000" stop-color="#fff" stop-opacity="0.0511"/><stop offset="0.0556" stop-color="#fff" stop-opacity="0.0505"/><stop offset="0.1111" stop-color="#fff" stop-opacity="0.0484"/><stop offset="0.1667" stop-color="#fff" stop-opacity="0.0452"/><stop offset="0.2222" stop-color="#fff" stop-opacity="0.0411"/><stop offset="0.2778" stop-color="#fff" stop-opacity="0.0363"/><stop offset="0.3333" stop-color="#fff" stop-opacity="0.0311"/><stop offset="0.3889" stop-color="#fff" stop-opacity="0.0259"/><stop offset="0.4444" stop-color="#fff" stop-opacity="0.0210"/><stop offset="0.5000" stop-color="#fff" stop-opacity="0.0165"/><stop offset="0.5556" stop-color="#fff" stop-opacity="0.0126"/><stop offset="0.6111" stop-color="#fff" stop-opacity="0.0093"/><stop offset="0.6667" stop-color="#fff" stop-opacity="0.0066"/><stop offset="0.7222" stop-color="#fff" stop-opacity="0.0045"/><stop offset="0.7778" stop-color="#fff" stop-opacity="0.0029"/><stop offset="0.8333" stop-color="#fff" stop-opacity="0.0017"/><stop offset="0.8889" stop-color="#fff" stop-opacity="0.0009"/><stop offset="0.9444" stop-color="#fff" stop-opacity="0.0004"/><stop offset="1.0000" stop-color="#fff" stop-opacity="0.0000"/></radialGradient>
<radialGradient id="g32"><stop offset="0.0000" stop-color="#fff" stop-opacity="0.0582"/><stop offset="0.0556" stop-color="#fff" stop-opacity="0.0574"/><stop offset="0.1111" stop-color="#fff" stop-opacity="0.0551"/><stop offset="0.1667" stop-color="#fff" stop-opacity="0.0515"/><stop offset="0.2222" stop-color="#fff" stop-opacity="0.0468"/><stop offset="0.2778" stop-color="#fff" stop-opacity="0.0413"/><stop offset="0.3333" stop-color="#fff" stop-opacity="0.0355"/><stop offset="0.3889" stop-color="#fff" stop-opacity="0.0296"/><stop offset="0.4444" stop-color="#fff" stop-opacity="0.0240"/><stop offset="0.5000" stop-color="#fff" stop-opacity="0.0188"/><stop offset="0.5556" stop-color="#fff" stop-opacity="0.0144"/><stop offset="0.6111" stop-color="#fff" stop-opacity="0.0106"/><stop offset="0.6667" stop-color="#fff" stop-opacity="0.0075"/><stop offset="0.7222" stop-color="#fff" stop-opacity="0.0051"/><stop offset="0.7778" stop-color="#fff" stop-opacity="0.0033"/><stop offset="0.8333" stop-color="#fff" stop-opacity="0.0020"/><stop offset="0.8889" stop-color="#fff" stop-opacity="0.0011"/><stop offset="0.9444" stop-color="#fff" stop-opacity="0.0004"/><stop offset="1.0000" stop-color="#fff" stop-opacity="0.0000"/></radialGradient>
<clipPath id="clip1"><rect x="1096.3" y="8.9" width="840.8" height="422"/></clipPath>
</defs>
<rect width="2007" height="486" fill="#fff"/>
<g clip-path="url(#clip0)"><g filter="url(#jet)"><rect x="71" y="6.9" width="844.5" height="426" fill="#030303"/>
<ellipse cx="372.5" cy="273.5" rx="54" ry="46.5" fill="url(#g1)"/>
<ellipse cx="366" cy="273" rx="81" ry="82.5" fill="url(#g2)"/>
<ellipse cx="373" cy="220" rx="66" ry="72" fill="url(#g3)"/>
<rect x="120" y="140" width="350" height="240" fill="#fff" fill-opacity="0.0929" filter="url(#g4)"/>
<rect x="480" y="110" width="400" height="280" fill="#fff" fill-opacity="0.0237" filter="url(#g5)"/>
<ellipse cx="197" cy="271" rx="72" ry="66" fill="url(#g6)"/>
<ellipse cx="190" cy="172" rx="66" ry="75" fill="url(#g7)"/>
<ellipse cx="147" cy="212" rx="60" ry="60" fill="url(#g8)"/></g></g>
<rect x="73" y="8.9" width="840.5" height="422" fill="none" stroke="#000" stroke-width="1"/>
<line x1="142.70" y1="430.9" x2="142.70" y2="435.7" stroke="#000" stroke-width="1.1"/><text class="tk" transform="translate(142.70 454.1) scale(1.05 1)" text-anchor="middle">−150</text>
<line x1="259.50" y1="430.9" x2="259.50" y2="435.7" stroke="#000" stroke-width="1.1"/><text class="tk" transform="translate(259.50 454.1) scale(1.05 1)" text-anchor="middle">−100</text>
<line x1="376.30" y1="430.9" x2="376.30" y2="435.7" stroke="#000" stroke-width="1.1"/><text class="tk" transform="translate(376.30 454.1) scale(1.05 1)" text-anchor="middle">−50</text>
<line x1="493.10" y1="430.9" x2="493.10" y2="435.7" stroke="#000" stroke-width="1.1"/><text class="tk" transform="translate(493.10 454.1) scale(1.05 1)" text-anchor="middle">0</text>
<line x1="609.90" y1="430.9" x2="609.90" y2="435.7" stroke="#000" stroke-width="1.1"/><text class="tk" transform="translate(609.90 454.1) scale(1.05 1)" text-anchor="middle">50</text>
<line x1="726.70" y1="430.9" x2="726.70" y2="435.7" stroke="#000" stroke-width="1.1"/><text class="tk" transform="translate(726.70 454.1) scale(1.05 1)" text-anchor="middle">100</text>
<line x1="843.50" y1="430.9" x2="843.50" y2="435.7" stroke="#000" stroke-width="1.1"/><text class="tk" transform="translate(843.50 454.1) scale(1.05 1)" text-anchor="middle">150</text>
<line x1="68.2" y1="407.45" x2="73" y2="407.45" stroke="#000" stroke-width="1.1"/><text class="tk" transform="translate(62.15 412.65) scale(1.05 1)" text-anchor="end">−80</text>
<line x1="68.2" y1="360.64" x2="73" y2="360.64" stroke="#000" stroke-width="1.1"/><text class="tk" transform="translate(62.15 365.84) scale(1.05 1)" text-anchor="end">−60</text>
<line x1="68.2" y1="313.82" x2="73" y2="313.82" stroke="#000" stroke-width="1.1"/><text class="tk" transform="translate(62.15 319.02) scale(1.05 1)" text-anchor="end">−40</text>
<line x1="68.2" y1="267.01" x2="73" y2="267.01" stroke="#000" stroke-width="1.1"/><text class="tk" transform="translate(62.15 272.21) scale(1.05 1)" text-anchor="end">−20</text>
<line x1="68.2" y1="220.20" x2="73" y2="220.20" stroke="#000" stroke-width="1.1"/><text class="tk" transform="translate(62.15 225.40) scale(1.05 1)" text-anchor="end">0</text>
<line x1="68.2" y1="173.39" x2="73" y2="173.39" stroke="#000" stroke-width="1.1"/><text class="tk" transform="translate(62.15 178.59) scale(1.05 1)" text-anchor="end">20</text>
<line x1="68.2" y1="126.58" x2="73" y2="126.58" stroke="#000" stroke-width="1.1"/><text class="tk" transform="translate(62.15 131.78) scale(1.05 1)" text-anchor="end">40</text>
<line x1="68.2" y1="79.76" x2="73" y2="79.76" stroke="#000" stroke-width="1.1"/><text class="tk" transform="translate(62.15 84.96) scale(1.05 1)" text-anchor="end">60</text>
<line x1="68.2" y1="32.95" x2="73" y2="32.95" stroke="#000" stroke-width="1.1"/><text class="tk" transform="translate(62.15 38.15) scale(1.05 1)" text-anchor="end">80</text>
<text class="lab" transform="translate(493.25 475) scale(1.05 1)" text-anchor="middle">Azimuthal Angle (θ)</text>
<text class="lab" transform="translate(19.45 221.00) rotate(-90) scale(1.05 1)" text-anchor="middle">Altitude Angle (φ)</text>
<rect x="922.9" y="8.9" width="21.9" height="422" fill="url(#cb)" stroke="#000" stroke-width="1"/>
<line x1="944.8" y1="369.30" x2="949.6" y2="369.30" stroke="#000" stroke-width="1.1"/><text class="ctk" transform="translate(955.1 375.20) scale(1.03 1)">0.1</text>
<line x1="944.8" y1="306.30" x2="949.6" y2="306.30" stroke="#000" stroke-width="1.1"/><text class="ctk" transform="translate(955.1 312.20) scale(1.03 1)">0.2</text>
<line x1="944.8" y1="243.30" x2="949.6" y2="243.30" stroke="#000" stroke-width="1.1"/><text class="ctk" transform="translate(955.1 249.20) scale(1.03 1)">0.3</text>
<line x1="944.8" y1="180.30" x2="949.6" y2="180.30" stroke="#000" stroke-width="1.1"/><text class="ctk" transform="translate(955.1 186.20) scale(1.03 1)">0.4</text>
<line x1="944.8" y1="117.30" x2="949.6" y2="117.30" stroke="#000" stroke-width="1.1"/><text class="ctk" transform="translate(955.1 123.20) scale(1.03 1)">0.5</text>
<line x1="944.8" y1="54.30" x2="949.6" y2="54.30" stroke="#000" stroke-width="1.1"/><text class="ctk" transform="translate(955.1 60.20) scale(1.03 1)">0.6</text>
<text class="clab" transform="translate(998.30 220.70) rotate(-90) scale(1.047 1)" text-anchor="middle">Counts Per Steradian That Each Bin Subtends</text>
<rect x="353" y="173.4" width="49.3" height="119.3" fill="none" stroke="#0a0a0a" stroke-width="3.1"/>
<ellipse cx="371.8" cy="279.3" rx="11.5" ry="4.4" fill="none" stroke="#1a0505" stroke-width="3.3"/>
<text class="ttl" y="58.6" font-size="48"><tspan x="536.4" textLength="187.5" lengthAdjust="spacingAndGlyphs">Gamma</tspan> <tspan x="743.05" textLength="152.8" lengthAdjust="spacingAndGlyphs">Image</tspan></text>
<text class="pu" transform="translate(326.2 365.2) scale(1 1)" font-size="44">PuO<tspan class="sub" font-size="26" dx="-3.5" dy="12.9" textLength="20.5" lengthAdjust="spacingAndGlyphs">2</tspan></text>
<text class="tag" x="830" y="404.6" font-size="41.6">(a)</text>
<g clip-path="url(#clip1)"><g filter="url(#jet)"><rect x="1094.3" y="6.9" width="844.8" height="426" fill="#060606"/>
<rect x="1365" y="262" width="45" height="56" fill="#fff" fill-opacity="0.5416" filter="url(#g9)"/>
<ellipse cx="1387" cy="274" rx="25.5" ry="45" fill="url(#g10)"/>
<ellipse cx="1366" cy="313" rx="30" ry="33" fill="url(#g11)"/>
<ellipse cx="1416" cy="312" rx="30" ry="39" fill="url(#g12)"/>
<rect x="1343" y="242" width="81" height="83" fill="#fff" fill-opacity="0.1772" filter="url(#g13)"/>
<ellipse cx="1392" cy="212" rx="57" ry="90" fill="url(#g14)"/>
<rect x="1360" y="218" width="61" height="44" fill="#fff" fill-opacity="0.1131" filter="url(#g15)"/>
<rect x="1200" y="110" width="700" height="260" fill="#fff" fill-opacity="0.0178" filter="url(#g16)"/>
<ellipse cx="1310" cy="270" rx="165" ry="180" fill="url(#g17)"/>
<ellipse cx="1394" cy="140" rx="54" ry="84" fill="url(#g18)"/>
<ellipse cx="1245" cy="155" rx="42" ry="78" fill="url(#g19)"/>
<ellipse cx="1226" cy="220" rx="39" ry="135" fill="url(#g20)"/>
<ellipse cx="1268" cy="252" rx="33" ry="108" fill="url(#g21)"/>
<ellipse cx="1513" cy="122" rx="45" ry="54" fill="url(#g22)"/>
<ellipse cx="1790" cy="108" rx="51" ry="48" fill="url(#g23)"/>
<ellipse cx="1817" cy="181" rx="48" ry="48" fill="url(#g24)"/>
<ellipse cx="1595" cy="195" rx="48" ry="48" fill="url(#g25)"/>
<ellipse cx="1686" cy="283" rx="48" ry="42" fill="url(#g26)"/>
<ellipse cx="1541" cy="265" rx="48" ry="48" fill="url(#g27)"/>
<ellipse cx="1509" cy="356" rx="48" ry="60" fill="url(#g28)"/>
<ellipse cx="1654" cy="252" rx="48" ry="48" fill="url(#g29)"/>
<ellipse cx="1817" cy="234" rx="48" ry="48" fill="url(#g30)"/>
<ellipse cx="1330" cy="215" rx="48" ry="120" fill="url(#g31)"/>
<ellipse cx="1345" cy="312" rx="54" ry="48" fill="url(#g32)"/></g></g>
<rect x="1096.3" y="8.9" width="840.8" height="422" fill="none" stroke="#000" stroke-width="1"/>
<line x1="1166.20" y1="430.9" x2="1166.20" y2="435.7" stroke="#000" stroke-width="1.1"/><text class="tk" transform="translate(1166.20 454.1) scale(1.05 1)" text-anchor="middle">−150</text>
<line x1="1283.00" y1="430.9" x2="1283.00" y2="435.7" stroke="#000" stroke-width="1.1"/><text class="tk" transform="translate(1283.00 454.1) scale(1.05 1)" text-anchor="middle">−100</text>
<line x1="1399.80" y1="430.9" x2="1399.80" y2="435.7" stroke="#000" stroke-width="1.1"/><text class="tk" transform="translate(1399.80 454.1) scale(1.05 1)" text-anchor="middle">−50</text>
<line x1="1516.60" y1="430.9" x2="1516.60" y2="435.7" stroke="#000" stroke-width="1.1"/><text class="tk" transform="translate(1516.60 454.1) scale(1.05 1)" text-anchor="middle">0</text>
<line x1="1633.40" y1="430.9" x2="1633.40" y2="435.7" stroke="#000" stroke-width="1.1"/><text class="tk" transform="translate(1633.40 454.1) scale(1.05 1)" text-anchor="middle">50</text>
<line x1="1750.20" y1="430.9" x2="1750.20" y2="435.7" stroke="#000" stroke-width="1.1"/><text class="tk" transform="translate(1750.20 454.1) scale(1.05 1)" text-anchor="middle">100</text>
<line x1="1867.00" y1="430.9" x2="1867.00" y2="435.7" stroke="#000" stroke-width="1.1"/><text class="tk" transform="translate(1867.00 454.1) scale(1.05 1)" text-anchor="middle">150</text>
<line x1="1091.5" y1="407.45" x2="1096.3" y2="407.45" stroke="#000" stroke-width="1.1"/><text class="tk" transform="translate(1085.45 412.65) scale(1.05 1)" text-anchor="end">−80</text>
<line x1="1091.5" y1="360.64" x2="1096.3" y2="360.64" stroke="#000" stroke-width="1.1"/><text class="tk" transform="translate(1085.45 365.84) scale(1.05 1)" text-anchor="end">−60</text>
<line x1="1091.5" y1="313.82" x2="1096.3" y2="313.82" stroke="#000" stroke-width="1.1"/><text class="tk" transform="translate(1085.45 319.02) scale(1.05 1)" text-anchor="end">−40</text>
<line x1="1091.5" y1="267.01" x2="1096.3" y2="267.01" stroke="#000" stroke-width="1.1"/><text class="tk" transform="translate(1085.45 272.21) scale(1.05 1)" text-anchor="end">−20</text>
<line x1="1091.5" y1="220.20" x2="1096.3" y2="220.20" stroke="#000" stroke-width="1.1"/><text class="tk" transform="translate(1085.45 225.40) scale(1.05 1)" text-anchor="end">0</text>
<line x1="1091.5" y1="173.39" x2="1096.3" y2="173.39" stroke="#000" stroke-width="1.1"/><text class="tk" transform="translate(1085.45 178.59) scale(1.05 1)" text-anchor="end">20</text>
<line x1="1091.5" y1="126.58" x2="1096.3" y2="126.58" stroke="#000" stroke-width="1.1"/><text class="tk" transform="translate(1085.45 131.78) scale(1.05 1)" text-anchor="end">40</text>
<line x1="1091.5" y1="79.76" x2="1096.3" y2="79.76" stroke="#000" stroke-width="1.1"/><text class="tk" transform="translate(1085.45 84.96) scale(1.05 1)" text-anchor="end">60</text>
<line x1="1091.5" y1="32.95" x2="1096.3" y2="32.95" stroke="#000" stroke-width="1.1"/><text class="tk" transform="translate(1085.45 38.15) scale(1.05 1)" text-anchor="end">80</text>
<text class="lab" transform="translate(1516.70 475) scale(1.05 1)" text-anchor="middle">Azimuthal Angle (θ)</text>
<text class="lab" transform="translate(1042.75 221.00) rotate(-90) scale(1.05 1)" text-anchor="middle">Altitude Angle (φ)</text>
<rect x="1946.5" y="8.9" width="21.8" height="422" fill="url(#cb)" stroke="#000" stroke-width="1"/>
<line x1="1968.3" y1="383.93" x2="1973.1" y2="383.93" stroke="#000" stroke-width="1.1"/><text class="ctk" transform="translate(1978.6 389.83) scale(1.03 1)">1</text>
<line x1="1968.3" y1="336.86" x2="1973.1" y2="336.86" stroke="#000" stroke-width="1.1"/><text class="ctk" transform="translate(1978.6 342.76) scale(1.03 1)">2</text>
<line x1="1968.3" y1="289.79" x2="1973.1" y2="289.79" stroke="#000" stroke-width="1.1"/><text class="ctk" transform="translate(1978.6 295.69) scale(1.03 1)">3</text>
<line x1="1968.3" y1="242.72" x2="1973.1" y2="242.72" stroke="#000" stroke-width="1.1"/><text class="ctk" transform="translate(1978.6 248.62) scale(1.03 1)">4</text>
<line x1="1968.3" y1="195.65" x2="1973.1" y2="195.65" stroke="#000" stroke-width="1.1"/><text class="ctk" transform="translate(1978.6 201.55) scale(1.03 1)">5</text>
<line x1="1968.3" y1="148.58" x2="1973.1" y2="148.58" stroke="#000" stroke-width="1.1"/><text class="ctk" transform="translate(1978.6 154.48) scale(1.03 1)">6</text>
<line x1="1968.3" y1="101.51" x2="1973.1" y2="101.51" stroke="#000" stroke-width="1.1"/><text class="ctk" transform="translate(1978.6 107.41) scale(1.03 1)">7</text>
<line x1="1968.3" y1="54.44" x2="1973.1" y2="54.44" stroke="#000" stroke-width="1.1"/><text class="ctk" transform="translate(1978.6 60.34) scale(1.03 1)">8</text>
<text class="clab" transform="translate(2007.20 220.70) rotate(-90) scale(1.047 1)" text-anchor="middle">Counts Per Steradian That Each Bin Subtends</text>
<rect x="1376.6" y="173.3" width="49.2" height="119.2" fill="none" stroke="#0a0a0a" stroke-width="3.1"/>
<ellipse cx="1395.5" cy="279.3" rx="11.5" ry="4.4" fill="none" stroke="#1a0505" stroke-width="3.3"/>
<text class="ttl" y="56.9" font-size="48"><tspan x="1546.1" textLength="200" lengthAdjust="spacingAndGlyphs">Neutron</tspan> <tspan x="1765.5" textLength="153.9" lengthAdjust="spacingAndGlyphs">Image</tspan></text>
<text class="pu" transform="translate(1353.2 365.2) scale(1 1)" font-size="44">PuO<tspan class="sub" font-size="26" dx="-3" dy="12.9" textLength="20.5" lengthAdjust="spacingAndGlyphs">2</tspan></text>
<text class="tag" x="1847.8" y="404.6" font-size="41.6">(b)</text>
</svg>
</body></html>
